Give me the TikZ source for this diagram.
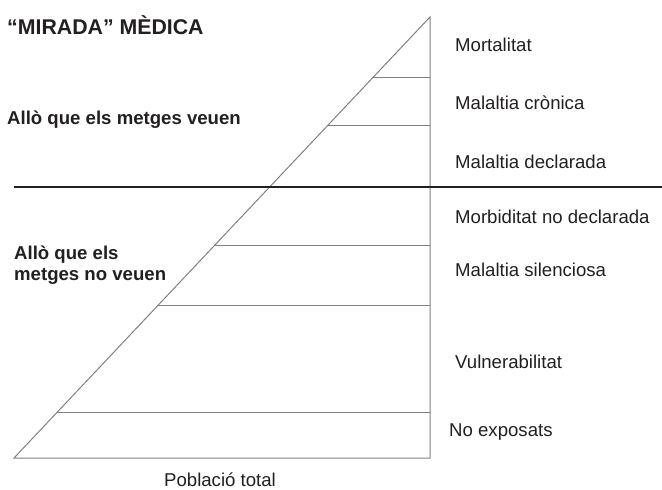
\documentclass[tikz,border=0pt]{standalone}
\usepackage{fontspec}
\setmainfont{Liberation Sans}
\definecolor{inkgray}{HTML}{231F20}
\definecolor{linegray}{HTML}{808080}
\tikzset{
  level/.style={anchor=west, text=inkgray, inner sep=0pt, font=\fontsize{18.6}{20.5}\selectfont},
  sidetext/.style={level, font=\fontsize{18.6}{20.5}\selectfont\bfseries, align=left},
  thin/.style={draw=linegray, line width=1pt}
}

\begin{document}
\begin{tikzpicture}[x=1pt,y=-1pt]
    \useasboundingbox (0,0) rectangle (662,490);
    % pyramid
    \coordinate (apex) at (430,17);
    \coordinate (baseleft) at (14,458);
    \coordinate (baseright) at (430,458);
    \draw [thin] (apex) -- (baseleft) -- (baseright) -- cycle;
    \foreach \y in {77,125,245,305,412}
        \draw [thin] ({14+(458-\y)/441*416},\y) -- (430,\y);
    % border between what is seen and what is not
    \coordinate (seenleft) at (14,187);
    \coordinate (seenright) at (662,187);
    \draw [inkgray, line width=2.5pt] (seenleft) -- (seenright);

    \node [level] (mort) at (455,45) {Mortalitat};
    \node [level] (cronica) at (455,103) {Malaltia crònica};
    \node [level] (declarada) at (455,162) {Malaltia declarada};
    \node [level] (morbid) at (455,217) {Morbiditat no declarada};
    \node [level] (silenci) at (455,270) {Malaltia silenciosa};
    \node [level] (vulner) at (455,362) {Vulnerabilitat};
    \node [level] (noexp) at (449,432) {No exposats};
    \node [level, anchor=center] (total) at (220,480) {Població total};

    \node [sidetext, font=\fontsize{21.3}{24}\selectfont\bfseries] (mirada) at (7,25) {“MIRADA” MÈDICA};
    \node [sidetext] (veuen) at (7,120) {Allò que els metges veuen};
    \node [sidetext] (noveuen) at (14,265) {Allò que els\\metges no veuen};
\end{tikzpicture}
\end{document}
